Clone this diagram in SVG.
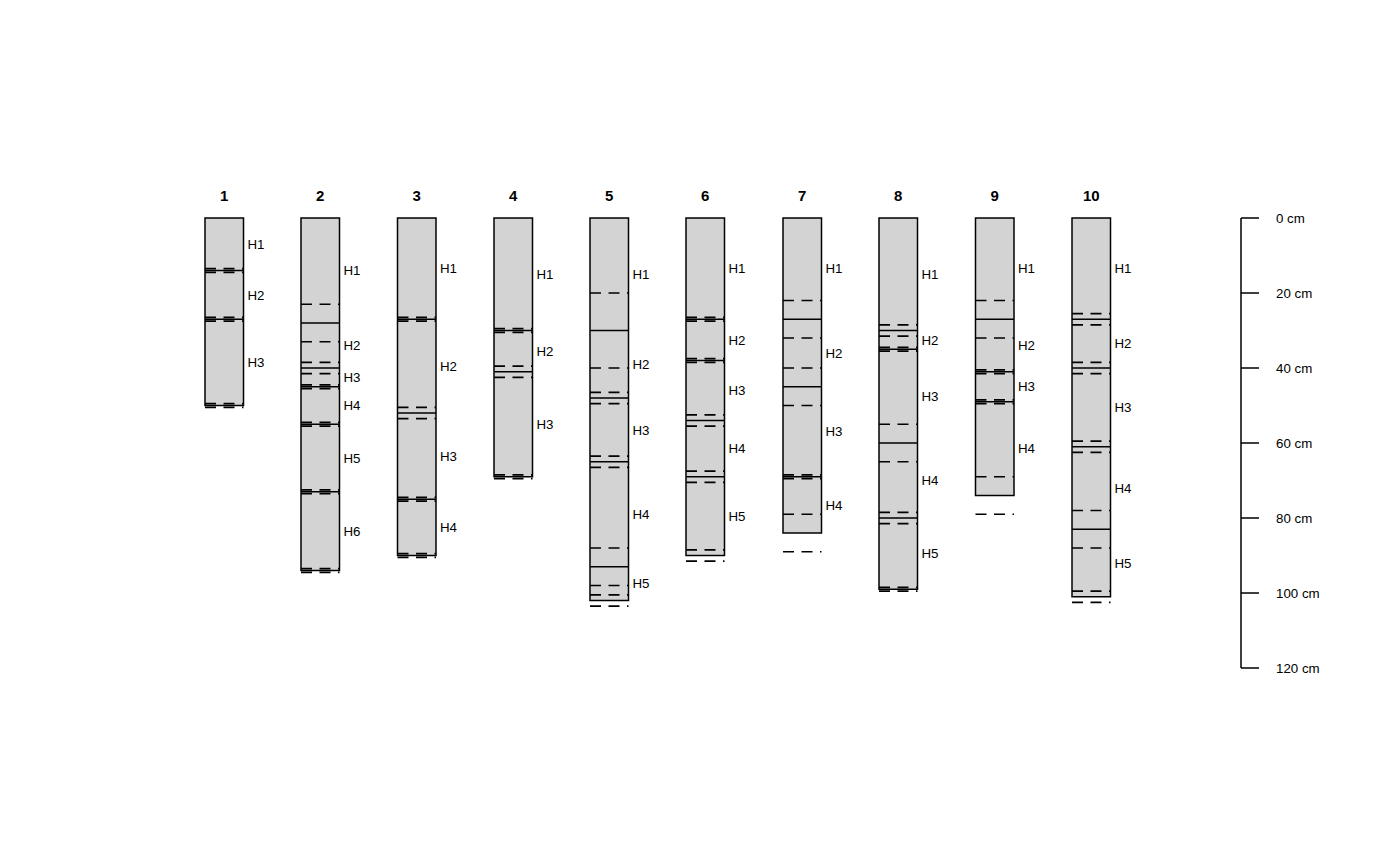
<svg xmlns="http://www.w3.org/2000/svg" width="1400" height="865" viewBox="0 0 1400 865">
<style>
.bg{fill:#ffffff}
.hz{fill:#d3d3d3;stroke:#000;stroke-width:1.5}
.b{stroke:#000;stroke-width:1.5;fill:none}
.d{stroke:#000;stroke-width:1.7;fill:none;stroke-dasharray:11 7.5}
.id{font-family:"Liberation Sans",Arial,sans-serif;font-size:15px;font-weight:bold;text-anchor:middle;fill:#000}
.lb{font-family:"Liberation Sans",Arial,sans-serif;font-size:13.3px;fill:#000}
</style>
<rect class="bg" x="0" y="0" width="1400" height="865"/>

<g id="p1">
<text class="id" x="224.25" y="200.5">1</text>
<rect class="hz" x="205" y="218" width="38.5" height="187.5"/>
<path class="b" d="M205 270.5H243.5M205 319.25H243.5"/>
<path class="d" d="M205 268.625H243.5M205 272.375H243.5M205 317.375H243.5M205 321.125H243.5M205 403.625H243.5M205 407.375H243.5"/>
<text class="lb" x="247.5" y="248.85">H1</text>
<text class="lb" x="247.5" y="299.5">H2</text>
<text class="lb" x="247.5" y="367">H3</text>
</g>

<g id="p2">
<text class="id" x="320.25" y="200.5">2</text>
<rect class="hz" x="301" y="218" width="38.5" height="352.5"/>
<path class="b" d="M301 323H339.5M301 368H339.5M301 386.75H339.5M301 424.25H339.5M301 491.75H339.5"/>
<path class="d" d="M301 304.25H339.5M301 341.75H339.5M301 362.375H339.5M301 373.625H339.5M301 384.875H339.5M301 388.625H339.5M301 422.375H339.5M301 426.125H339.5M301 489.875H339.5M301 493.625H339.5M301 568.625H339.5M301 572.375H339.5"/>
<text class="lb" x="343.5" y="275.1">H1</text>
<text class="lb" x="343.5" y="350.1">H2</text>
<text class="lb" x="343.5" y="382">H3</text>
<text class="lb" x="343.5" y="410.1">H4</text>
<text class="lb" x="343.5" y="462.6">H5</text>
<text class="lb" x="343.5" y="535.7">H6</text>
</g>

<g id="p3">
<text class="id" x="416.75" y="200.5">3</text>
<rect class="hz" x="397.5" y="218" width="38.5" height="337.5"/>
<path class="b" d="M397.5 319.25H436M397.5 413H436M397.5 499.25H436"/>
<path class="d" d="M397.5 317.375H436M397.5 321.125H436M397.5 407.375H436M397.5 418.625H436M397.5 497.375H436M397.5 501.125H436M397.5 553.625H436M397.5 557.375H436"/>
<text class="lb" x="440" y="273.2">H1</text>
<text class="lb" x="440" y="370.7">H2</text>
<text class="lb" x="440" y="460.7">H3</text>
<text class="lb" x="440" y="532">H4</text>
</g>

<g id="p4">
<text class="id" x="513.25" y="200.5">4</text>
<rect class="hz" x="494" y="218" width="38.5" height="258.75"/>
<path class="b" d="M494 330.5H532.5M494 371.75H532.5"/>
<path class="d" d="M494 328.625H532.5M494 332.375H532.5M494 366.125H532.5M494 377.375H532.5M494 474.875H532.5M494 478.625H532.5"/>
<text class="lb" x="536.5" y="278.85">H1</text>
<text class="lb" x="536.5" y="355.7">H2</text>
<text class="lb" x="536.5" y="428.85">H3</text>
</g>

<g id="p5">
<text class="id" x="609.25" y="200.5">5</text>
<rect class="hz" x="590" y="218" width="38.5" height="382.5"/>
<path class="b" d="M590 330.5H628.5M590 398H628.5M590 461.75H628.5M590 566.75H628.5"/>
<path class="d" d="M590 293H628.5M590 368H628.5M590 392.375H628.5M590 403.625H628.5M590 456.125H628.5M590 467.375H628.5M590 548H628.5M590 585.5H628.5M590 594.875H628.5M590 606.125H628.5"/>
<text class="lb" x="632.5" y="278.85">H1</text>
<text class="lb" x="632.5" y="368.85">H2</text>
<text class="lb" x="632.5" y="434.5">H3</text>
<text class="lb" x="632.5" y="518.85">H4</text>
<text class="lb" x="632.5" y="588.2">H5</text>
</g>

<g id="p6">
<text class="id" x="705.25" y="200.5">6</text>
<rect class="hz" x="686" y="218" width="38.5" height="337.5"/>
<path class="b" d="M686 319.25H724.5M686 360.5H724.5M686 420.5H724.5M686 476.75H724.5"/>
<path class="d" d="M686 317.375H724.5M686 321.125H724.5M686 358.625H724.5M686 362.375H724.5M686 414.875H724.5M686 426.125H724.5M686 471.125H724.5M686 482.375H724.5M686 549.875H724.5M686 561.125H724.5"/>
<text class="lb" x="728.5" y="273.2">H1</text>
<text class="lb" x="728.5" y="344.5">H2</text>
<text class="lb" x="728.5" y="395.1">H3</text>
<text class="lb" x="728.5" y="453.2">H4</text>
<text class="lb" x="728.5" y="520.7">H5</text>
</g>

<g id="p7">
<text class="id" x="802.25" y="200.5">7</text>
<rect class="hz" x="783" y="218" width="38.5" height="315"/>
<path class="b" d="M783 319.25H821.5M783 386.75H821.5M783 476.75H821.5"/>
<path class="d" d="M783 300.5H821.5M783 338H821.5M783 368H821.5M783 405.5H821.5M783 474.875H821.5M783 478.625H821.5M783 514.25H821.5M783 551.75H821.5"/>
<text class="lb" x="825.5" y="273.2">H1</text>
<text class="lb" x="825.5" y="357.6">H2</text>
<text class="lb" x="825.5" y="436.35">H3</text>
<text class="lb" x="825.5" y="509.5">H4</text>
</g>

<g id="p8">
<text class="id" x="898.25" y="200.5">8</text>
<rect class="hz" x="879" y="218" width="38.5" height="371.25"/>
<path class="b" d="M879 330.5H917.5M879 349.25H917.5M879 443H917.5M879 518H917.5"/>
<path class="d" d="M879 324.875H917.5M879 336.125H917.5M879 347.375H917.5M879 351.125H917.5M879 424.25H917.5M879 461.75H917.5M879 512.375H917.5M879 523.625H917.5M879 587.375H917.5M879 591.125H917.5"/>
<text class="lb" x="921.5" y="278.85">H1</text>
<text class="lb" x="921.5" y="344.5">H2</text>
<text class="lb" x="921.5" y="400.7">H3</text>
<text class="lb" x="921.5" y="485.1">H4</text>
<text class="lb" x="921.5" y="558.2">H5</text>
</g>

<g id="p9">
<text class="id" x="994.75" y="200.5">9</text>
<rect class="hz" x="975.5" y="218" width="38.5" height="277.5"/>
<path class="b" d="M975.5 319.25H1014M975.5 371.75H1014M975.5 401.75H1014"/>
<path class="d" d="M975.5 300.5H1014M975.5 338H1014M975.5 369.875H1014M975.5 373.625H1014M975.5 399.875H1014M975.5 403.625H1014M975.5 476.75H1014M975.5 514.25H1014"/>
<text class="lb" x="1018" y="273.2">H1</text>
<text class="lb" x="1018" y="350.1">H2</text>
<text class="lb" x="1018" y="391.35">H3</text>
<text class="lb" x="1018" y="453.2">H4</text>
</g>

<g id="p10">
<text class="id" x="1091.25" y="200.5">10</text>
<rect class="hz" x="1072" y="218" width="38.5" height="378.75"/>
<path class="b" d="M1072 319.25H1110.5M1072 368H1110.5M1072 446.75H1110.5M1072 529.25H1110.5"/>
<path class="d" d="M1072 313.625H1110.5M1072 324.875H1110.5M1072 362.375H1110.5M1072 373.625H1110.5M1072 441.125H1110.5M1072 452.375H1110.5M1072 510.5H1110.5M1072 548H1110.5M1072 591.125H1110.5M1072 602.375H1110.5"/>
<text class="lb" x="1114.5" y="273.2">H1</text>
<text class="lb" x="1114.5" y="348.2">H2</text>
<text class="lb" x="1114.5" y="412">H3</text>
<text class="lb" x="1114.5" y="492.6">H4</text>
<text class="lb" x="1114.5" y="567.6">H5</text>
</g>

<g id="scale">
<path class="b" d="M1241 218V668M1241 218H1259M1241 293H1259M1241 368H1259M1241 443H1259M1241 518H1259M1241 593H1259M1241 668H1259"/>
<text class="lb" x="1276" y="222.6">0 cm</text>
<text class="lb" x="1276" y="297.6">20 cm</text>
<text class="lb" x="1276" y="372.6">40 cm</text>
<text class="lb" x="1276" y="447.6">60 cm</text>
<text class="lb" x="1276" y="522.6">80 cm</text>
<text class="lb" x="1276" y="597.6">100 cm</text>
<text class="lb" x="1276" y="672.6">120 cm</text>
</g>
</svg>
